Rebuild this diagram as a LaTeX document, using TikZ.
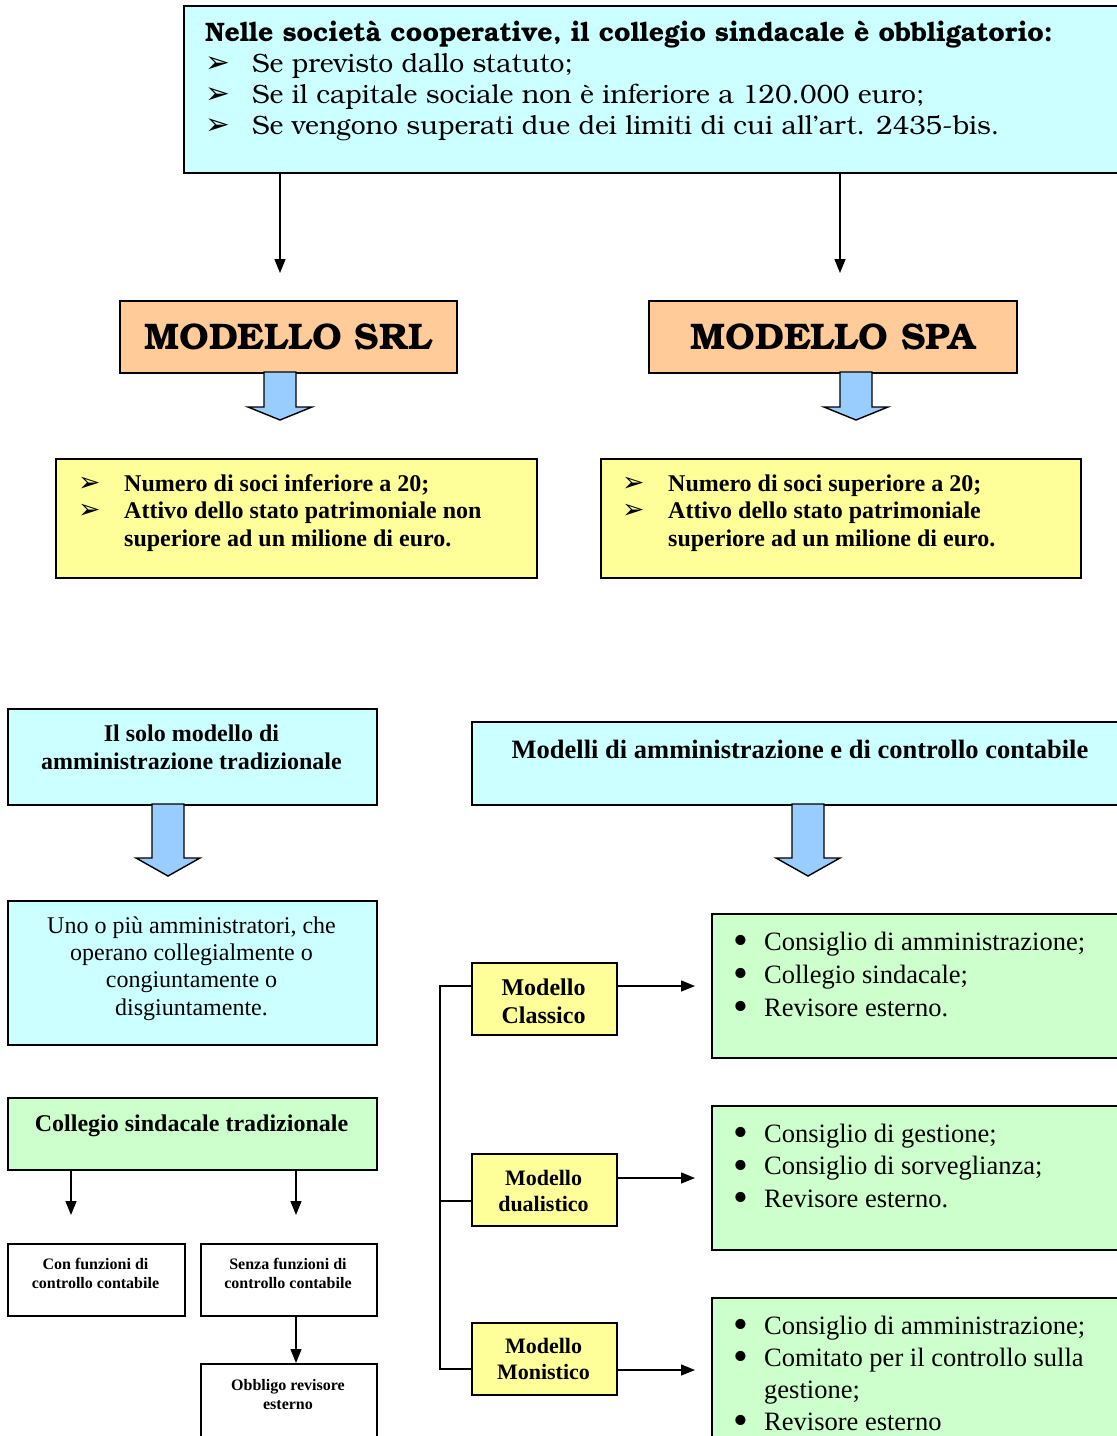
\documentclass[tikz,border=0pt]{standalone}
\usepackage{fontspec}
\setmainfont{Liberation Serif}
\newfontfamily\bonum{texgyrebonum}[Extension=.otf, UprightFont=*-regular, BoldFont=*-bold]
\newfontfamily\symfont{DejaVu Sans}
\usetikzlibrary{arrows.meta}

\definecolor{cyanfill}{HTML}{CCFFFF}
\definecolor{orangefill}{HTML}{FFCC99}
\definecolor{yellowfill}{HTML}{FFFF99}
\definecolor{greenfill}{HTML}{CCFFCC}
\definecolor{arrowfill}{HTML}{99CCFF}

\newcommand{\arrowbul}[1]{\makebox[#1][l]{\symfont\scalebox{1.12}{➢}}}
\newcommand{\dotbul}{\makebox[31pt][l]{\smash{\raisebox{-0.17em}{\scalebox{1.6}{\textbullet}}}}}

\begin{document}
\begin{tikzpicture}[x=1pt,y=-1pt,
  box/.style={draw=black, line width=1.6pt, rectangle, inner sep=0pt, anchor=north west},
  % multi-line texts are anchored at the baseline of their last line
  txt/.style={inner sep=0pt, anchor=base west, align=left},
  ctxt/.style={inner sep=0pt, anchor=base, align=center},
  thinarrow/.style={line width=1.4pt, -{Triangle[length=14pt,width=11pt]}},
  plainline/.style={line width=1.4pt},
  blockarrow/.style={draw=black, line width=1.4pt, fill=arrowfill, line join=miter},
  pics/blockdown/.style args={#1/#2}{code={
    \draw[blockarrow] (-16,0) -- (16,0) -- (16,#1) -- (32,#1) -- (0,#2)
      -- (-32,#1) -- (-16,#1) -- cycle;}}
]
\useasboundingbox (0,0) rectangle (1117,1436);
\clip (0,0) rectangle (1117,1436);

% ---------- upper part: cooperative companies ----------
\node[box, fill=cyanfill, minimum width=950pt, minimum height=167pt] (top) at (183,5) {};
\node[txt, font=\bonum\fontsize{26.5}{31}\selectfont] (toptext) at (205,134)
  {\textbf{\fontsize{26.7}{31}\selectfont Nelle società cooperative, il collegio sindacale è obbligatorio:}\\
   \arrowbul{47pt}Se previsto dallo statuto;\\
   \arrowbul{47pt}Se il capitale sociale non è inferiore a 120.000 euro;\\
   \arrowbul{47pt}Se vengono superati due dei limiti di cui all’art. 2435-bis.};

\node[box, fill=orangefill, minimum width=337pt, minimum height=72pt] (srl) at (119,300) {};
\node[font=\bonum\bfseries\fontsize{37}{40}\selectfont, inner sep=0pt] (srltext) at (srl.center) {MODELLO SRL};
\node[box, fill=orangefill, minimum width=368pt, minimum height=72pt] (spa) at (648,300) {};
\node[font=\bonum\bfseries\fontsize{37}{40}\selectfont, inner sep=0pt] (spatext) at (spa.center) {MODELLO SPA};

\coordinate (t1) at (280,273);
\coordinate (t2) at (840,273);
\draw[thinarrow] (top.south -| t1) -- (t1);
\draw[thinarrow] (top.south -| t2) -- (t2);

\pic at (280,372) {blockdown=35/48};
\pic at (856,372) {blockdown=35/48};

\node[box, fill=yellowfill, minimum width=481pt, minimum height=119pt] (yl) at (55,458) {};
\node[txt, font=\bfseries\fontsize{24}{27.5}\selectfont] (yltext) at (78,546)
  {\arrowbul{46pt}Numero di soci inferiore a 20;\\
   \arrowbul{46pt}Attivo dello stato patrimoniale non\\
   \hspace*{46pt}superiore ad un milione di euro.};
\node[box, fill=yellowfill, minimum width=480pt, minimum height=119pt] (yr) at (600,458) {};
\node[txt, font=\bfseries\fontsize{24}{27.5}\selectfont] (yrtext) at (622,546)
  {\arrowbul{46pt}Numero di soci superiore a 20;\\
   \arrowbul{46pt}Attivo dello stato patrimoniale\\
   \hspace*{46pt}superiore ad un milione di euro.};

% ---------- lower left: traditional model ----------
\node[box, fill=cyanfill, minimum width=369pt, minimum height=96pt] (solo) at (7,708) {};
\node[ctxt, font=\bfseries\fontsize{24}{28}\selectfont] (solotext) at (191.5,769)
  {Il solo modello di\\ amministrazione tradizionale};
\pic at (168,804) {blockdown=54/72};

\node[box, fill=cyanfill, minimum width=369pt, minimum height=144pt] (uno) at (7,900) {};
\node[ctxt, font=\fontsize{24}{27.3}\selectfont] (unotext) at (191.5,1015)
  {Uno o più amministratori, che\\ operano collegialmente o\\ congiuntamente o\\ disgiuntamente.};

\node[box, fill=greenfill, minimum width=369pt, minimum height=72pt] (coll) at (7,1097) {};
\node[ctxt, font=\bfseries\fontsize{24}{28}\selectfont] (colltext) at (191.5,1131)
  {Collegio sindacale tradizionale};

\node[box, fill=white, minimum width=177pt, minimum height=72pt] (con) at (7,1243) {};
\node[ctxt, font=\bfseries\fontsize{16}{19}\selectfont] (context) at (95.5,1288)
  {Con funzioni di\\ controllo contabile};
\node[box, fill=white, minimum width=176pt, minimum height=72pt] (senza) at (200,1243) {};
\node[ctxt, font=\bfseries\fontsize{16}{19}\selectfont] (senzatext) at (288,1288)
  {Senza funzioni di\\ controllo contabile};
\node[box, fill=white, minimum width=176pt, minimum height=90pt] (obbligo) at (200,1363) {};
\node[ctxt, font=\bfseries\fontsize{16}{19}\selectfont] (obbligotext) at (288,1409)
  {Obbligo revisore\\ esterno};

\coordinate (c1) at (71,1215);
\coordinate (c2) at (296,1215);
\coordinate (c3) at (296,1363);
\draw[thinarrow] (coll.south -| c1) -- (c1);
\draw[thinarrow] (coll.south -| c2) -- (c2);
\draw[thinarrow] (senza.south -| c3) -- (c3);

% ---------- lower right: administration models ----------
\node[box, fill=cyanfill, minimum width=660pt, minimum height=83pt] (modelli) at (471,721) {};
\node[ctxt, font=\bfseries\fontsize{26.5}{28}\selectfont] (modellitext) at (800,758)
  {Modelli di amministrazione e di controllo contabile};
\pic at (808,804) {blockdown=54/72};

\node[box, fill=yellowfill, minimum width=145pt, minimum height=72pt] (classico) at (471,962) {};
\node[ctxt, font=\bfseries\fontsize{24}{28}\selectfont] (classicotext) at (543.5,1023)
  {Modello\\ Classico};
\node[box, fill=yellowfill, minimum width=145pt, minimum height=72pt] (dual) at (471,1153) {};
\node[ctxt, font=\bfseries\fontsize{22}{26}\selectfont] (dualtext) at (543.5,1211)
  {Modello\\ dualistico};
\node[box, fill=yellowfill, minimum width=145pt, minimum height=72pt] (mon) at (471,1322) {};
\node[ctxt, font=\bfseries\fontsize{22}{26}\selectfont] (montext) at (543.5,1379)
  {Modello\\ Monistico};

\coordinate (b1) at (440,986);
\coordinate (b2) at (440,1201);
\coordinate (b3) at (440,1369);
\draw[plainline] (classico.west |- b1) -- (b1) -- (b3) -- (mon.west |- b3);
\draw[plainline] (b2) -- (dual.west |- b2);

\node[box, fill=greenfill, minimum width=420pt, minimum height=144pt] (g1) at (711,913) {};
\node[txt, font=\fontsize{26.5}{33}\selectfont] (g1text) at (733,1016)
  {\dotbul Consiglio di amministrazione;\\
   \dotbul Collegio sindacale;\\
   \dotbul Revisore esterno.};
\node[box, fill=greenfill, minimum width=420pt, minimum height=144pt] (g2) at (711,1105) {};
\node[txt, font=\fontsize{26.5}{32.5}\selectfont] (g2text) at (733,1207)
  {\dotbul Consiglio di gestione;\\
   \dotbul Consiglio di sorveglianza;\\
   \dotbul Revisore esterno.};
\node[box, fill=greenfill, minimum width=420pt, minimum height=170pt] (g3) at (711,1297) {};
\node[txt, font=\fontsize{26.5}{32}\selectfont] (g3text) at (733,1430)
  {\dotbul Consiglio di amministrazione;\\
   \dotbul Comitato per il controllo sulla\\
   \hspace*{31pt}gestione;\\
   \dotbul Revisore esterno};

\coordinate (a1) at (695,986);
\coordinate (a2) at (695,1178);
\coordinate (a3) at (695,1370);
\draw[thinarrow] (classico.east |- a1) -- (a1);
\draw[thinarrow] (dual.east |- a2) -- (a2);
\draw[thinarrow] (mon.east |- a3) -- (a3);
\end{tikzpicture}
\end{document}
